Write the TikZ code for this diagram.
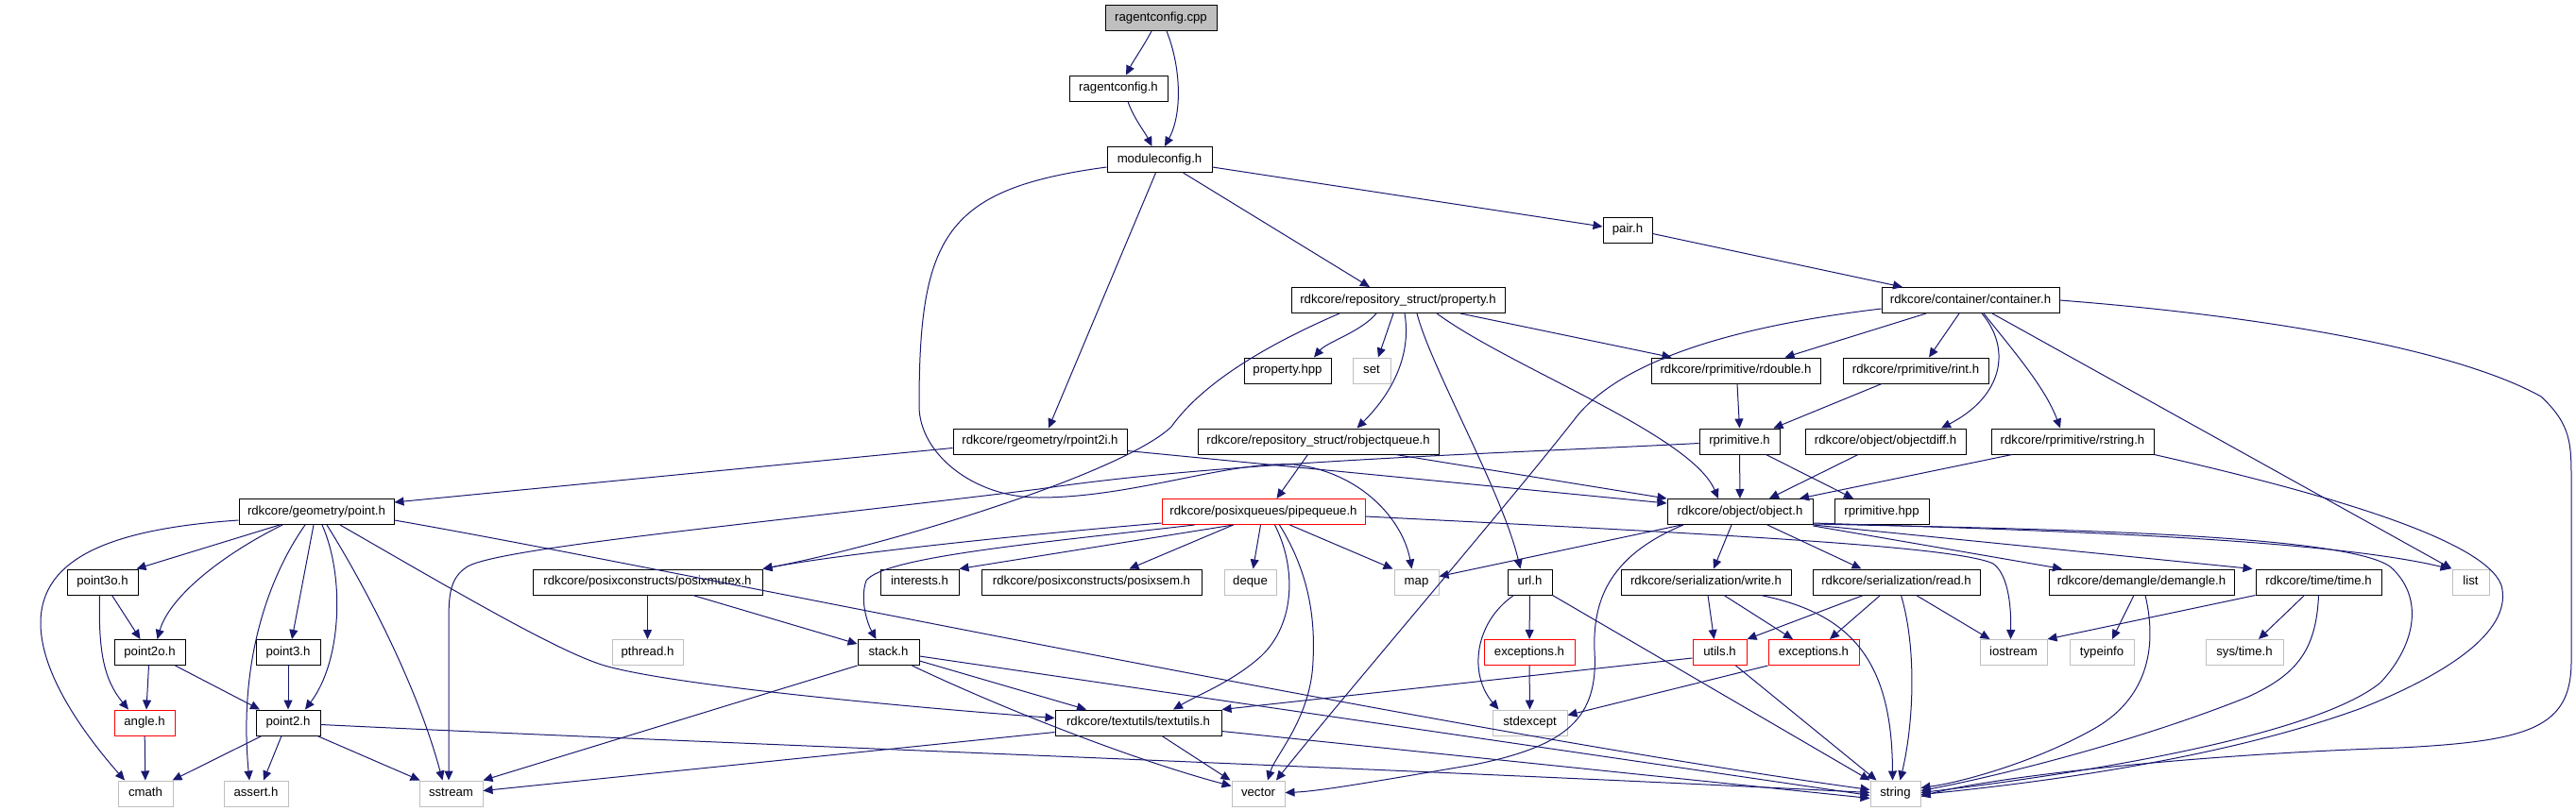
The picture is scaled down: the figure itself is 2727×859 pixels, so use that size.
\documentclass[tikz,border=0pt]{standalone}
\usepackage{fontspec}
\setmainfont{Liberation Sans}
\usetikzlibrary{arrows.meta}
\definecolor{edgec}{HTML}{191970}
\definecolor{graybd}{HTML}{BFBFBF}
\definecolor{cppfill}{HTML}{BFBFBF}
\definecolor{redbd}{HTML}{FF0000}
\tikzset{
  nd/.style={draw=black, line width=1pt, minimum height=27pt, inner xsep=2pt, inner ysep=0pt,
    font=\fontsize{13.2}{15}\selectfont, text height=9.6pt, text depth=2.9pt},
  sysnd/.style={nd, draw=graybd},
  rednd/.style={nd, draw=redbd},
  dep/.style={draw=edgec, line width=1pt, -{Triangle[length=10pt,width=9pt]}}
}
\begin{document}
\begin{tikzpicture}[x=1pt,y=-1pt]
\useasboundingbox (0,0) rectangle (2727,859);
% row 0-3
\node[nd, fill=cppfill, minimum width=118pt] (cpp) at (1229,19) {ragentconfig.cpp};
\node[nd, minimum width=104pt] (rch) at (1184,93.5) {ragentconfig.h};
\node[nd, minimum width=111pt] (mod) at (1227.5,169) {moduleconfig.h};
\node[nd, minimum width=52pt] (pair) at (1723,243.5) {pair.h};
% row 4
\node[nd, minimum width=226pt] (prop) at (1480,318) {rdkcore/repository\_struct/property.h};
\node[nd, minimum width=188pt] (cont) at (2086,318) {rdkcore/container/container.h};
% row 5
\node[nd, minimum width=92pt] (phpp) at (1363,392.5) {property.hpp};
\node[sysnd, minimum width=40pt] (set) at (1452,392.5) {set};
\node[nd, minimum width=179pt] (rdouble) at (1837.5,392.5) {rdkcore/rprimitive/rdouble.h};
\node[nd, minimum width=154pt] (rint) at (2028,392.5) {rdkcore/rprimitive/rint.h};
% row 6
\node[nd, minimum width=184pt] (rpoint2i) at (1101,467.5) {rdkcore/rgeometry/rpoint2i.h};
\node[nd, minimum width=255pt] (robjq) at (1395.5,467.5) {rdkcore/repository\_struct/robjectqueue.h};
\node[nd, minimum width=85pt] (rprim) at (1841.5,467.5) {rprimitive.h};
\node[nd, minimum width=170pt] (objdiff) at (1996,467.5) {rdkcore/object/objectdiff.h};
\node[nd, minimum width=172pt] (rstring) at (2194,467.5) {rdkcore/rprimitive/rstring.h};
% row 7
\node[nd, minimum width=164pt] (point) at (335,542) {rdkcore/geometry/point.h};
\node[rednd, minimum width=215pt] (pipeq) at (1337.5,542) {rdkcore/posixqueues/pipequeue.h};
\node[nd, minimum width=154pt] (object) at (1842,542) {rdkcore/object/object.h};
\node[nd, minimum width=100pt] (rphpp) at (1992,542) {rprimitive.hpp};
% row 8
\node[nd, minimum width=75pt] (point3o) at (108.5,616.5) {point3o.h};
\node[nd, minimum width=243pt] (posixmutex) at (685.5,616.5) {rdkcore/posixconstructs/posixmutex.h};
\node[nd, minimum width=83pt] (interests) at (973.5,616.5) {interests.h};
\node[nd, minimum width=233pt] (posixsem) at (1155.5,616.5) {rdkcore/posixconstructs/posixsem.h};
\node[sysnd, minimum width=55pt] (deque) at (1323.5,616.5) {deque};
\node[sysnd, minimum width=47pt] (map) at (1499.5,616.5) {map};
\node[nd, minimum width=47pt] (url) at (1619.5,616.5) {url.h};
\node[nd, minimum width=180pt] (write) at (1806,616.5) {rdkcore/serialization/write.h};
\node[nd, minimum width=177pt] (read) at (2007.5,616.5) {rdkcore/serialization/read.h};
\node[nd, minimum width=196pt] (demangle) at (2267,616.5) {rdkcore/demangle/demangle.h};
\node[nd, minimum width=133pt] (time) at (2454.5,616.5) {rdkcore/time/time.h};
\node[sysnd, minimum width=39pt] (list) at (2615.5,616.5) {list};
% row 9
\node[nd, minimum width=75pt] (point2o) at (158.5,691) {point2o.h};
\node[nd, minimum width=68pt] (point3) at (305,691) {point3.h};
\node[sysnd, minimum width=75pt] (pthread) at (685.5,691) {pthread.h};
\node[nd, minimum width=65pt] (stack) at (940.5,691) {stack.h};
\node[rednd, minimum width=96pt] (exc1) at (1619,691) {exceptions.h};
\node[rednd, minimum width=57pt] (utils) at (1820.5,691) {utils.h};
\node[rednd, minimum width=96pt] (exc2) at (1920,691) {exceptions.h};
\node[sysnd, minimum width=71pt] (iostream) at (2131.5,691) {iostream};
\node[sysnd, minimum width=68pt] (typeinfo) at (2225,691) {typeinfo};
\node[sysnd, minimum width=82pt] (systime) at (2376,691) {sys/time.h};
% row 10
\node[rednd, minimum width=64pt] (angle) at (153,765.5) {angle.h};
\node[nd, minimum width=68pt] (point2) at (305,765.5) {point2.h};
\node[nd, minimum width=176pt] (textutils) at (1205,765.5) {rdkcore/textutils/textutils.h};
\node[sysnd, minimum width=79pt] (stdexcept) at (1619.5,765.5) {stdexcept};
% row 11
\node[sysnd, minimum width=58pt] (cmath) at (154,840.5) {cmath};
\node[sysnd, minimum width=68pt] (assert) at (271,840.5) {assert.h};
\node[sysnd, minimum width=67pt] (sstream) at (477.5,840.5) {sstream};
\node[sysnd, minimum width=56pt] (vector) at (1332,840.5) {vector};
\node[sysnd, minimum width=53pt] (string) at (2006.5,840.5) {string};

% ---- edges ----
\draw[dep] ([xshift=-10pt]cpp.south) .. controls (1210,50) and (1200,64) .. ([xshift=8pt]rch.north);
\draw[dep] ([xshift=6pt]cpp.south) .. controls (1250,70) and (1252,120) .. ([xshift=5.5pt]mod.north);
\draw[dep] ([xshift=10pt]rch.south) .. controls (1200,125) and (1212,140) .. ([xshift=-8pt]mod.north);
\draw[dep] ([yshift=-8pt]mod.east) -- ([yshift=3.5pt]pair.west);
\draw[dep] ([xshift=25pt]mod.south) -- ([xshift=-30pt]prop.north);
\draw[dep] ([xshift=-4pt]mod.south) -- ([xshift=9pt]rpoint2i.north);
\draw[dep] ([yshift=-8pt]mod.west) .. controls (1000,200) and (973,250) .. (973,430) .. controls (973,480) and (1030,527) .. (1100,527) .. controls (1200,527) and (1300,488) .. (1370,492) .. controls (1440,500) and (1485,550) .. ([xshift=-5pt]map.north);
\draw[dep] ([yshift=-4pt]pair.east) -- ([xshift=-72pt]cont.north);
% property.h
\draw[dep] ([xshift=-23pt]prop.south) .. controls (1440,352) and (1405,362) .. ([xshift=28pt]phpp.north);
\draw[dep] ([xshift=-5pt]prop.south) -- ([xshift=7pt]set.north);
\draw[dep] ([xshift=7pt]prop.south) .. controls (1495,380) and (1470,420) .. ([xshift=41pt]robjq.north);
\draw[dep] ([xshift=20pt]prop.south) .. controls (1515,390) and (1590,520) .. ([xshift=-10pt]url.north);
\draw[dep] ([xshift=41pt]prop.south) .. controls (1600,390) and (1790,460) .. ([xshift=-23pt]object.north);
\draw[dep] ([xshift=66pt]prop.south) -- ([xshift=-68pt]rdouble.north);
\draw[dep] ([xshift=-62pt]prop.south) .. controls (1330,370) and (1270,410) .. (1240,452) .. controls (1190,500) and (950,575) .. (posixmutex.north east);
% container.h
\draw[dep] ([xshift=-47pt]cont.south) -- ([xshift=52pt]rdouble.north);
\draw[dep] ([xshift=-12pt]cont.south) -- ([xshift=14pt]rint.north);
\draw[dep] ([xshift=12pt]cont.south) .. controls (2130,370) and (2120,420) .. ([xshift=59pt]objdiff.north);
\draw[dep] ([xshift=14pt]cont.south) .. controls (2130,370) and (2165,410) .. ([xshift=-13pt]rstring.north);
\draw[dep] ([xshift=23pt]cont.south) -- (list.north west);
\draw[dep] (cont.east) .. controls (2400,335) and (2600,370) .. (2690,420) .. controls (2722,450) and (2722,470) .. (2722,510) -- (2722,700) .. controls (2722,770) and (2680,785) .. (2540,792) .. controls (2300,800) and (2100,825) .. ([yshift=-3pt]string.east);
\draw[dep] ([yshift=-9pt]cont.west) .. controls (1840,345) and (1720,380) .. (1670,440) .. controls (1600,530) and (1420,740) .. ([xshift=19pt]vector.north);
% rprimitive
\draw[dep] ([xshift=1.5pt]rdouble.south) -- (rprim.north);
\draw[dep] ([xshift=-36pt]rint.south) -- ([xshift=36pt]rprim.north);
\draw[dep] ([yshift=-7pt]rpoint2i.west) -- ([yshift=10pt]point.east);
\draw[dep] ([yshift=-10pt]rpoint2i.east) -- ([yshift=9pt]object.west);
\draw[dep] ([xshift=-11pt]robjq.south) -- ([xshift=14pt]pipeq.north);
\draw[dep] ([xshift=82pt]robjq.south) -- (object.north west);
\draw[dep] (rprim) -- (object);
\draw[dep] ([xshift=28pt]rprim.south) -- ([xshift=-30pt]rphpp.north);
\draw[dep] ([yshift=-2pt]rprim.west) .. controls (1600,480) and (1300,488) .. (1100,518) .. controls (800,555) and (530,580) .. (495,600) .. controls (476,612) and (475,630) .. (475,660) -- ([xshift=-2.5pt]sstream.north);
\draw[dep] ([xshift=-29pt]objdiff.south) -- ([xshift=31pt]object.north);
\draw[dep] ([xshift=-64pt]rstring.south) -- ([xshift=63pt]object.north);
\draw[dep] (rstring.south east) .. controls (2450,520) and (2630,570) .. (2648,620) .. controls (2660,665) and (2600,710) .. (2500,750) .. controls (2350,805) and (2150,830) .. ([yshift=-1pt]string.east);
% point.h
\draw[dep] ([yshift=-9pt]point.west) .. controls (120,560) and (43,590) .. (43,660) .. controls (43,720) and (100,790) .. ([xshift=-22pt]cmath.north);
\draw[dep] ([xshift=-39pt]point.south) -- ([xshift=-2pt]point3o.north east);
\draw[dep] ([xshift=-36pt]point.south) .. controls (240,585) and (180,630) .. ([xshift=8pt]point2o.north);
\draw[dep] ([xshift=-12pt]point.south) .. controls (285,610) and (252,700) .. ([xshift=-7pt]assert.north);
\draw[dep] ([xshift=-3pt]point.south) -- ([xshift=4pt]point3.north);
\draw[dep] ([xshift=6pt]point.south) .. controls (365,610) and (362,700) .. ([xshift=18pt]point2.north);
\draw[dep] ([xshift=11pt]point.south) .. controls (380,610) and (440,720) .. ([xshift=-9pt]sstream.north);
\draw[dep] ([xshift=25pt]point.south) .. controls (480,625) and (590,690) .. (640,705) .. controls (720,728) and (1000,752) .. ([yshift=5pt]textutils.west);
\draw[dep] ([yshift=-9pt]point.east) .. controls (700,600) and (1500,770) .. ([yshift=4pt]string.west);
% small point headers
\draw[dep] ([xshift=10pt]point3o.south) -- ([xshift=-10pt]point2o.north);
\draw[dep] ([xshift=-3pt]point3o.south) .. controls (104,690) and (110,720) .. ([xshift=-17pt]angle.north);
\draw[dep] ([xshift=-1pt]point2o.south) -- ([xshift=2pt]angle.north);
\draw[dep] ([xshift=27pt]point2o.south) -- ([xshift=-30pt]point2.north);
\draw[dep] (point3) -- (point2);
\draw[dep] (angle) -- (cmath);
\draw[dep] ([xshift=-28pt]point2.south) -- ([xshift=-1pt]cmath.north east);
\draw[dep] ([xshift=-7pt]point2.south) -- ([xshift=8pt]assert.north);
\draw[dep] ([xshift=31pt]point2.south) -- ([xshift=1pt]sstream.north west);
\draw[dep] ([yshift=-2pt]point2.east) .. controls (700,785) and (1500,815) .. ([yshift=1pt]string.west);
% posixmutex
\draw[dep] (posixmutex) -- (pthread);
\draw[dep] ([xshift=48pt]posixmutex.south) -- ([yshift=9pt]stack.west);
% pipequeue
\draw[dep] ([yshift=-12pt]pipeq.west) .. controls (1100,565) and (900,585) .. (posixmutex.north east);
\draw[dep] ([xshift=-73pt]pipeq.south) .. controls (1100,575) and (935,590) .. (917,615) .. controls (910,635) and (918,660) .. ([xshift=-13pt]stack.north);
\draw[dep] ([xshift=-32pt]pipeq.south) -- (interests.north east);
\draw[dep] ([xshift=-32pt]pipeq.south) -- ([xshift=40pt]posixsem.north);
\draw[dep] ([xshift=-3pt]pipeq.south) -- ([xshift=3pt]deque.north);
\draw[dep] ([xshift=12pt]pipeq.south) .. controls (1372,600) and (1372,660) .. (1335,695) .. controls (1305,722) and (1270,735) .. ([xshift=37pt]textutils.north);
\draw[dep] ([xshift=17pt]pipeq.south) .. controls (1388,610) and (1392,660) .. (1390,700) .. controls (1388,760) and (1350,800) .. ([xshift=10pt]vector.north);
\draw[dep] ([xshift=28pt]pipeq.south) -- ([xshift=-1pt]map.north west);
\draw[dep] ([yshift=-5pt]pipeq.east) .. controls (1800,565) and (2070,578) .. (2110,597) .. controls (2128,610) and (2129,650) .. ([xshift=-3pt]iostream.north);
% object.h
\draw[dep] ([xshift=-62pt]object.south) -- ([yshift=6pt]map.east);
\draw[dep] ([xshift=-60pt]object.south) .. controls (1700,590) and (1686,640) .. (1688,690) .. controls (1692,760) and (1660,790) .. (1560,810) .. controls (1470,825) and (1400,838) .. ([yshift=1pt]vector.east);
\draw[dep] ([xshift=-9pt]object.south) -- ([xshift=8pt]write.north);
\draw[dep] ([xshift=29pt]object.south) -- ([xshift=-37pt]read.north);
\draw[dep] ([yshift=-1pt]object.south east) -- ([xshift=-84pt]demangle.north);
\draw[dep] (object.south east) -- ([xshift=-3pt]time.north west);
\draw[dep] ([yshift=2pt]object.south east) .. controls (2100,560) and (2450,568) .. ([xshift=-2pt]list.north west);
\draw[dep] ([yshift=1pt]object.south east) .. controls (2150,560) and (2480,565) .. (2530,600) .. controls (2565,630) and (2560,680) .. (2520,723) .. controls (2450,780) and (2200,820) .. ([yshift=1pt]string.east);
% serialization
\draw[dep] ([xshift=2pt]write.south) -- ([xshift=-6pt]utils.north);
\draw[dep] ([xshift=19pt]write.south) -- ([xshift=-22pt]exc2.north);
\draw[dep] ([xshift=58pt]write.south) .. controls (1960,650) and (2003,700) .. ([xshift=-3pt]string.north);
\draw[dep] ([xshift=-35pt]read.south) -- (utils.north east);
\draw[dep] ([xshift=-17pt]read.south) -- ([xshift=17pt]exc2.north);
\draw[dep] ([xshift=5pt]read.south) .. controls (2030,690) and (2025,770) .. ([xshift=5pt]string.north);
\draw[dep] ([xshift=21pt]read.south) -- ([xshift=-25pt]iostream.north);
\draw[dep] ([yshift=-6pt]utils.west) -- (textutils.north east);
\draw[dep] ([xshift=17pt]utils.south) -- ([xshift=-20pt]string.north);
\draw[dep] (exc2.south west) -- ([yshift=8pt]stdexcept.east);
\draw[dep] (exc1) -- (stdexcept);
% url
\draw[dep] (url) -- (exc1);
\draw[dep] ([xshift=-17pt]url.south) .. controls (1560,660) and (1555,715) .. ([xshift=-33pt]stdexcept.north);
\draw[dep] (url.south east) -- (string.north west);
% demangle, time
\draw[dep] ([xshift=-8pt]demangle.south) -- ([xshift=11pt]typeinfo.north);
\draw[dep] ([xshift=4pt]demangle.south) .. controls (2285,690) and (2270,740) .. (2220,770) .. controls (2160,805) and (2080,828) .. ([yshift=6pt]string.east);
\draw[dep] (time.south west) -- (iostream.north east);
\draw[dep] ([xshift=-15pt]time.south) -- ([xshift=15pt]systime.north);
\draw[dep] (time.south) .. controls (2452,690) and (2430,715) .. (2380,738) .. controls (2250,790) and (2100,825) .. ([yshift=3pt]string.east);
% stack
\draw[dep] (stack.south west) -- (sstream.north east);
\draw[dep] ([yshift=-9pt]stack.east) -- ([xshift=-55pt]textutils.north);
\draw[dep] ([yshift=-4pt]stack.east) -- ([yshift=-2pt]string.west);
\draw[dep] ([xshift=25pt]stack.south) .. controls (1060,750) and (1200,805) .. ([yshift=8pt]vector.west);
% textutils
\draw[dep] ([yshift=-10pt]textutils.west) -- ([yshift=3pt]sstream.east);
\draw[dep] ([xshift=25pt]textutils.south) -- ([xshift=-1pt]vector.north west);
\draw[dep] ([yshift=-9pt]textutils.east) -- ([yshift=-5pt]string.west);
\end{tikzpicture}
\end{document}
